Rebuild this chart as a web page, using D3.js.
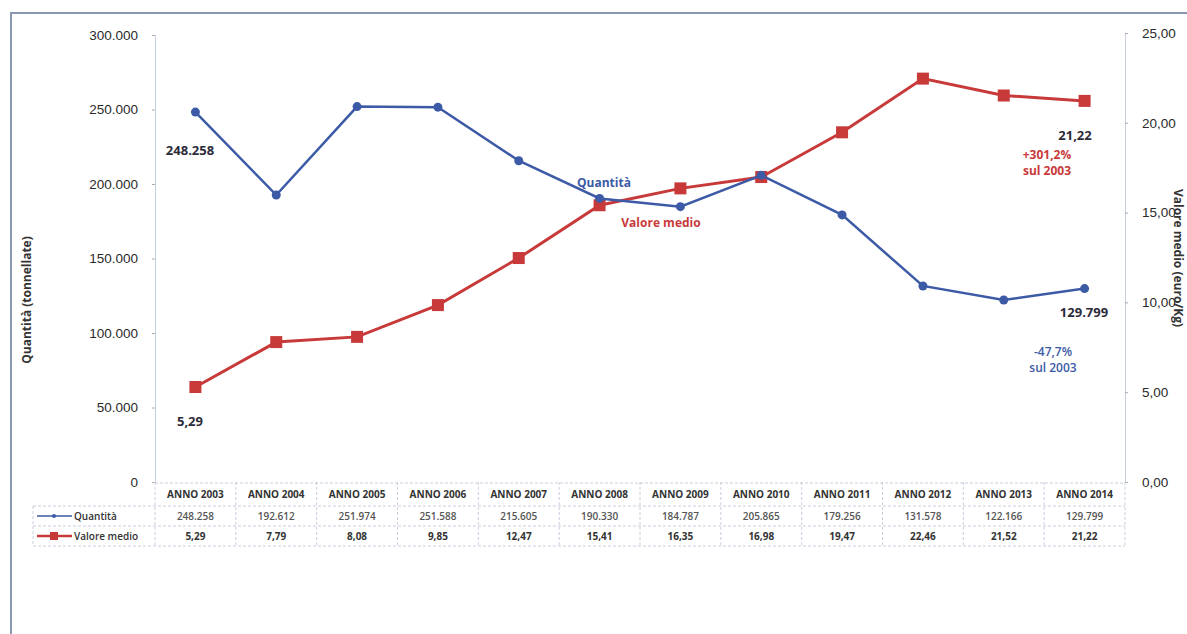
<!DOCTYPE html>
<html><head><meta charset="utf-8">
<script src="https://cdn.jsdelivr.net/npm/d3@7"></script>
<style>body{margin:0;background:#fff;}svg{display:block;font-family:"Open Sans",sans-serif;}</style>
</head><body><svg id="c" width="1187" height="634"></svg>
<script>
const years = ["ANNO 2003","ANNO 2004","ANNO 2005","ANNO 2006","ANNO 2007","ANNO 2008","ANNO 2009","ANNO 2010","ANNO 2011","ANNO 2012","ANNO 2013","ANNO 2014"];
const quantita = [248258,192612,251974,251588,215605,190330,184787,205865,179256,131578,122166,129799];
const valore = [5.29,7.79,8.08,9.85,12.47,15.41,16.35,16.98,19.47,22.46,21.52,21.22];
const leftTicks = [0,50000,100000,150000,200000,250000,300000];
const rightTicks = [0,5,10,15,20,25];

const svg = d3.select("#c");
const blue = "#3c5aa6", red = "#c83a3a", txt = "#333";
const L = 155, R = 1125, T = 35, B = 482;

// frame
svg.append("path").attr("d","M11,634V13H1187").attr("fill","none").attr("stroke","#8a96b4").attr("stroke-width",2);

const x = d3.scaleBand().domain(years).range([L,R]);
const yL = d3.scaleLinear().domain([0,300000]).range([B,T]);
const yR = d3.scaleLinear().domain([0,25]).range([B,T-2]);
const itFmt = d3.formatLocale({decimal:",",thousands:".",grouping:[3],currency:["€",""]});
const fmtQ = itFmt.format(",.0f"), fmtV = itFmt.format(",.2f");

// axes
const ax = svg.append("g").attr("transform",`translate(${L},0)`).call(d3.axisLeft(yL).tickValues(leftTicks).tickFormat(d=>d===0?"0":fmtQ(d)).tickSize(3).tickPadding(14));
const ar = svg.append("g").attr("transform",`translate(${R},0)`).call(d3.axisRight(yR).tickValues(rightTicks).tickFormat(fmtV).tickSize(3).tickPadding(14));
[ax,ar].forEach(g=>{g.select(".domain").attr("stroke","#c5cfe0");g.selectAll(".tick line").attr("stroke","#aaa");g.selectAll("text").attr("font-size",13.5).attr("fill","#2a2a2a");});

svg.append("text").attr("transform","translate(31,300) rotate(-90)").attr("text-anchor","middle").attr("font-size",12).attr("font-weight","bold").attr("fill",txt).text("Quantità (tonnellate)");
svg.append("text").attr("transform","translate(1174,258) rotate(90)").attr("text-anchor","middle").attr("font-size",12).attr("font-weight","bold").attr("fill",txt).text("Valore medio (euro/Kg)");

// table
const tb = svg.append("g");
const rows = [483,506,526,546];
tb.selectAll("line.h").data(rows).join("line").attr("x1",(d,i)=>i===0?L:33).attr("x2",R).attr("y1",d=>d).attr("y2",d=>d).attr("stroke","#c8cedc").attr("stroke-dasharray","3,2");
tb.selectAll("line.v").data(years.map(y=>x(y)).concat([R])).join("line").attr("x1",d=>d).attr("x2",d=>d).attr("y1",B).attr("y2",546).attr("stroke","#c8cedc").attr("stroke-dasharray","3,2");
tb.append("line").attr("x1",33).attr("x2",33).attr("y1",506).attr("y2",546).attr("stroke","#c8cedc").attr("stroke-dasharray","3,2");
tb.selectAll("text.y").data(years).join("text").attr("x",d=>x(d)+x.bandwidth()/2).attr("y",498).attr("text-anchor","middle").attr("font-size",10).attr("font-weight","bold").attr("fill",txt).text(d=>d);
tb.selectAll("text.q").data(quantita).join("text").attr("x",(d,i)=>x(years[i])+x.bandwidth()/2).attr("y",520).attr("text-anchor","middle").attr("font-size",10).attr("font-weight",600).attr("fill","#555").text(d=>fmtQ(d));
tb.selectAll("text.v").data(valore).join("text").attr("x",(d,i)=>x(years[i])+x.bandwidth()/2).attr("y",540).attr("text-anchor","middle").attr("font-size",10).attr("font-weight","bold").attr("fill",txt).text(d=>fmtV(d));
// legend keys
tb.append("line").attr("x1",37).attr("x2",72).attr("y1",516).attr("y2",516).attr("stroke",blue).attr("stroke-width",1.5);
tb.append("circle").attr("cx",54).attr("cy",516).attr("r",2).attr("fill",blue);
tb.append("text").attr("x",74).attr("y",520).attr("font-size",10).attr("font-weight",600).attr("fill",txt).text("Quantità");
tb.append("line").attr("x1",37).attr("x2",72).attr("y1",536).attr("y2",536).attr("stroke",red).attr("stroke-width",2.5);
tb.append("rect").attr("x",50).attr("y",532).attr("width",8).attr("height",8).attr("fill",red);
tb.append("text").attr("x",74).attr("y",540).attr("font-size",10).attr("font-weight",600).attr("fill",txt).text("Valore medio");

const cx = i => x(years[i]) + x.bandwidth()/2;
// lines
svg.append("path").datum(valore).attr("fill","none").attr("stroke",red).attr("stroke-width",3).attr("d",d3.line().x((d,i)=>cx(i)).y(d=>yR(d)));
svg.selectAll("rect.m").data(valore).join("rect").attr("x",(d,i)=>cx(i)-6).attr("y",d=>yR(d)-6).attr("width",12).attr("height",12).attr("fill",red);
svg.append("path").datum(quantita).attr("fill","none").attr("stroke",blue).attr("stroke-width",2.5).attr("d",d3.line().x((d,i)=>cx(i)).y(d=>yL(d)));
svg.selectAll("circle.m").data(quantita).join("circle").attr("cx",(d,i)=>cx(i)).attr("cy",d=>yL(d)).attr("r",4.5).attr("fill",blue);

// annotations
const ann = (t,xx,yy,c,s,w)=>svg.append("text").attr("x",xx).attr("y",yy).attr("text-anchor","middle").attr("font-size",s).attr("font-weight",w||"bold").attr("fill",c).text(t);
ann(fmtQ(quantita[0]),190,155,"#2b2b3a",13);
ann(fmtV(valore[0]),190,426,"#2b2b3a",13);
ann(fmtV(valore[11]),1075,140,"#2b2b3a",13);
ann(fmtQ(quantita[11]),1084,317,"#2b2b3a",13);
ann("+301,2%",1047,159,red,12);
ann("sul 2003",1047,175,red,12);
ann("-47,7%",1053,356,blue,12,600);
ann("sul 2003",1053,372,blue,12,600);
ann("Quantità",604,187,blue,12);
ann("Valore medio",661,227,red,12);
</script></body></html>
